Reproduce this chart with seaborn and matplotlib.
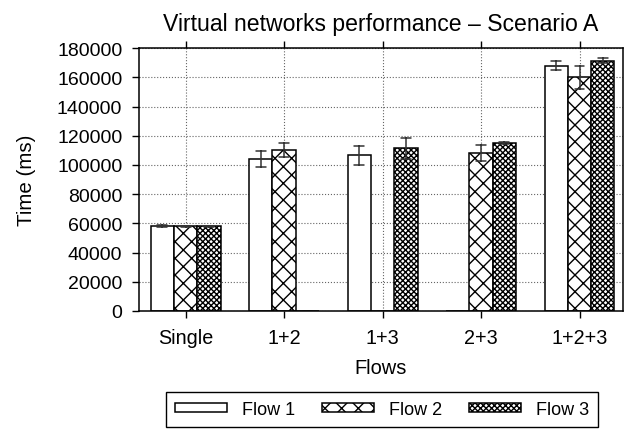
import numpy as np
import pandas as pd
import seaborn as sns
import matplotlib
matplotlib.use("Agg")
import matplotlib.pyplot as plt
from matplotlib.container import BarContainer

# data (mean time in ms and error half-width)
scenarios = ["Single", "1+2", "1+3", "2+3", "1+2+3"]
flows = ["Flow 1", "Flow 2", "Flow 3"]
flow1 = [58000, 104000, 106500, 0, 168000]
flow1_err = [600, 5700, 6700, 0, 3200]
flow2 = [57900, 110200, 0, 108200, 160000]
flow2_err = [300, 4500, 0, 5600, 8000]
flow3 = [57900, 0, 111400, 114800, 171500]
flow3_err = [300, 0, 7300, 800, 1500]

# two rows per bar (mean - err, mean + err) so seaborn draws the interval itself
rows = []
for flow, means, errs in zip(flows, [flow1, flow2, flow3], [flow1_err, flow2_err, flow3_err]):
    for sc, m, e in zip(scenarios, means, errs):
        rows.append({"Scenario": sc, "Flow": flow, "Time": m - e})
        rows.append({"Scenario": sc, "Flow": flow, "Time": m + e})
data = pd.DataFrame(rows)

sns.set_style("ticks")
plt.rcParams['font.family'] = ['Liberation Sans', 'DejaVu Sans']
plt.rcParams['hatch.linewidth'] = 1.0
plt.rcParams['text.color'] = 'black'
plt.rcParams['axes.labelcolor'] = 'black'
plt.rcParams['xtick.color'] = 'black'
plt.rcParams['ytick.color'] = 'black'

fig, ax = plt.subplots(figsize=(6.26, 4.35), dpi=100)
fig.subplots_adjust(left=0.222, right=0.995, bottom=0.283, top=0.887)

sns.barplot(data=data, x="Scenario", y="Time", hue="Flow", order=scenarios, hue_order=flows,
            palette=["white"] * 3, saturation=1, width=0.71,
            errorbar=lambda v: (v.min(), v.max()), capsize=0.3,
            err_kws={"color": "0.2", "linewidth": 1.1},
            edgecolor="black", linewidth=1.1, legend=False, ax=ax)

# hatch patterns per flow
hatches = ["", "xx", "xxxxxx"]
bars = [c for c in ax.containers if isinstance(c, BarContainer)]
for cont, h in zip(bars, hatches):
    for p in cont:
        p.set_hatch(h)

ax.set_ylim(0, 180000)
ax.set_yticks(np.arange(0, 180001, 20000))
ax.set_xlim(-0.474, 4.44)
ax.grid(True, linestyle=":", color="0.4", linewidth=0.8)
ax.set_axisbelow(True)
for s in ax.spines.values():
    s.set_visible(True)
    s.set_linewidth(1.1)
    s.set_color("black")
ax.tick_params(axis="x", top=True, direction="out", length=5, width=1, labelsize=14.2, pad=7)
ax.tick_params(axis="y", direction="out", length=5, width=1, labelsize=14, pad=7)

ax.set_title("Virtual networks performance \u2013 Scenario A", fontsize=16.6, pad=13)
ax.set_xlabel("Flows", fontsize=14.4, labelpad=8)
ax.set_ylabel("Time (ms)", fontsize=14.8, labelpad=15)

leg = fig.legend(bars, flows, ncol=3, loc="center", bbox_to_anchor=(0.61, 0.057),
                 frameon=True, fancybox=False, edgecolor="black", framealpha=1,
                 handlelength=2.9, handleheight=0.4, fontsize=13,
                 columnspacing=1.5, handletextpad=0.8, borderpad=0.5)
leg.get_frame().set_linewidth(1.0)

plt.savefig("out.png", dpi=100)
